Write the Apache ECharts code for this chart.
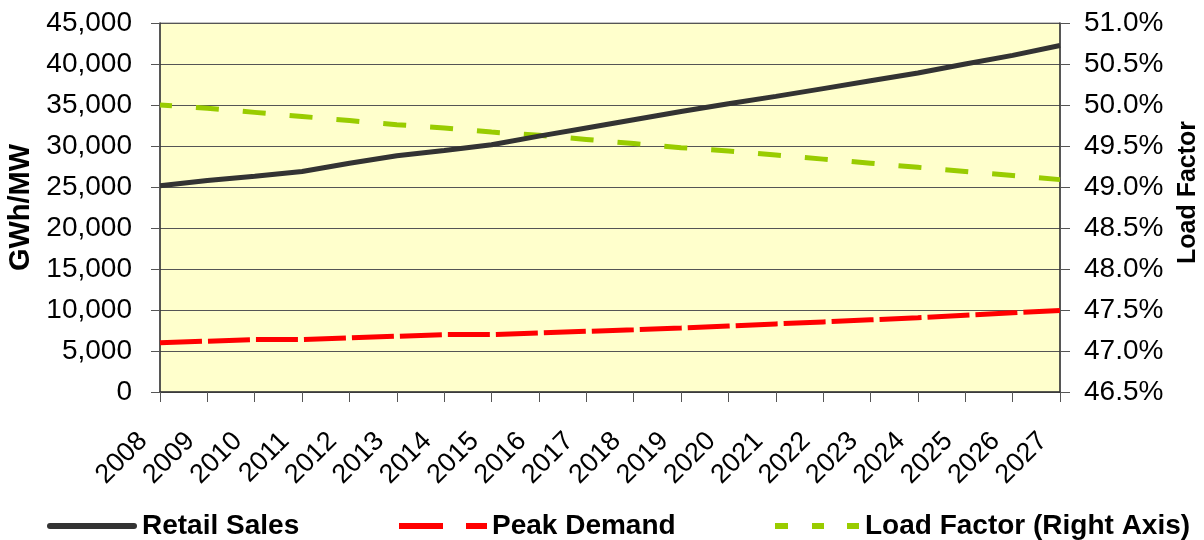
<!DOCTYPE html>
<html>
<head>
<meta charset="utf-8">
<script src="https://cdn.jsdelivr.net/npm/echarts@6/dist/echarts.min.js"></script>
<style>html,body{margin:0;padding:0;background:#fff;}#c{width:1204px;height:540px;}</style>
</head>
<body>
<div id="c"></div>
<script>
const years = ['2008','2009','2010','2011','2012','2013','2014','2015','2016','2017','2018','2019','2020','2021','2022','2023','2024','2025','2026','2027'];
const retailSales = [25150,25800,26300,26900,27900,28800,29450,30150,31200,32200,33200,34200,35150,36050,37000,37950,38900,40000,41050,42250];
const peakDemand = [6000,6200,6400,6400,6600,6800,7000,7000,7200,7400,7600,7800,8050,8300,8550,8800,9050,9350,9650,9950];
const loadFactor = [50.00,49.96,49.91,49.86,49.81,49.76,49.72,49.67,49.63,49.58,49.53,49.48,49.44,49.39,49.34,49.29,49.24,49.19,49.14,49.09];
const leftTicks = {min:0, max:45000, interval:5000};
const rightTicks = {min:46.5, max:51.0, interval:0.5};

const FONT = 'Liberation Sans, Arial, sans-serif';
const chart = echarts.init(document.getElementById('c'), null, {renderer:'canvas'});
function legendAt(left, name, icon, w, textPad){
  return {
    left: left, top: 504, orient:'horizontal',
    itemWidth: w, itemHeight: 6, itemGap: 0,
    icon: icon,
    data: [name],
    textStyle: {fontFamily: FONT, fontSize: 28, fontWeight: 'bold', color: '#000', lineHeight: 34, padding:[0,0,0,textPad]},
    selectedMode: false
  };
}
chart.setOption({
  animation: false,
  backgroundColor: '#ffffff',
  grid: {left:160, right:144, top:23, bottom:148, containLabel:false, outerBoundsMode:'none',
    show:true, backgroundColor:'#FFFFCC', borderColor:'#888', borderWidth:1},
  legend: [
    legendAt(42, 'Retail Sales', 'path://M3,0H87A3,3 0 0 1 87,6H3A3,3 0 0 1 3,0Z', 90, 0),
    legendAt(394, 'Peak Demand', 'path://M0,0H44V6H0Z M67,0H88V6H67Z', 88, 0),
    legendAt(770, 'Load Factor (Right Axis)', 'path://M0,0H13V6H0Z M37,0H49V6H37Z M72,0H84V6H72Z', 84, 1)
  ],
  xAxis: {
    type:'category', data: years, boundaryGap:false,
    axisLine:{lineStyle:{color:'#333', width:1.5}},
    axisTick:{show:true, length:10, lineStyle:{color:'#555'}},
    axisLabel:{rotate:45, fontFamily:FONT, fontSize:27, color:'#000', margin:28, interval:0, padding:[0,24,0,0]}
  },
  yAxis: [
    {
      type:'value', min:leftTicks.min, max:leftTicks.max, interval:leftTicks.interval, position:'left',
      name:'GWh/MW', nameLocation:'middle', nameRotate:90, nameGap:117,
      nameTextStyle:{fontFamily:FONT, fontSize:29, fontWeight:'bold', color:'#000'},
      axisLine:{show:true, lineStyle:{color:'#333', width:1.5}},
      axisTick:{show:true, length:9, lineStyle:{color:'#555'}},
      axisLabel:{fontFamily:FONT, fontSize:28, color:'#000', margin:28,
        formatter: v => v.toLocaleString('en-US')},
      splitLine:{show:true, lineStyle:{color:'#555', width:1}}
    },
    {
      type:'value', min:rightTicks.min, max:rightTicks.max, interval:rightTicks.interval, position:'right',
      name:'Load Factor', nameLocation:'middle', nameRotate:90, nameGap:116,
      nameTextStyle:{fontFamily:FONT, fontSize:25, fontWeight:'bold', color:'#000', padding:[0,0,0,30]},
      axisLine:{show:true, lineStyle:{color:'#333', width:1.5}},
      axisTick:{show:true, length:10, lineStyle:{color:'#555'}},
      axisLabel:{fontFamily:FONT, fontSize:28, color:'#000', margin:24,
        formatter: v => v.toFixed(1) + '%'},
      splitLine:{show:false}
    }
  ],
  series: [
    {name:'Retail Sales', type:'line', data:retailSales, yAxisIndex:0, symbol:'none',
      lineStyle:{color:'#333333', width:5}, itemStyle:{color:'#333333'}, z:3},
    {name:'Peak Demand', type:'line', data:peakDemand, yAxisIndex:0, symbol:'none',
      lineStyle:{color:'#FF0000', width:5, type:[42,6]}, itemStyle:{color:'#FF0000'}, z:2},
    {name:'Load Factor (Right Axis)', type:'line', data:loadFactor, yAxisIndex:1, symbol:'none',
      lineStyle:{color:'#99CC00', width:5, type:[23,24], dashOffset:11}, itemStyle:{color:'#99CC00'}, z:2}
  ]
});
</script>
</body>
</html>
